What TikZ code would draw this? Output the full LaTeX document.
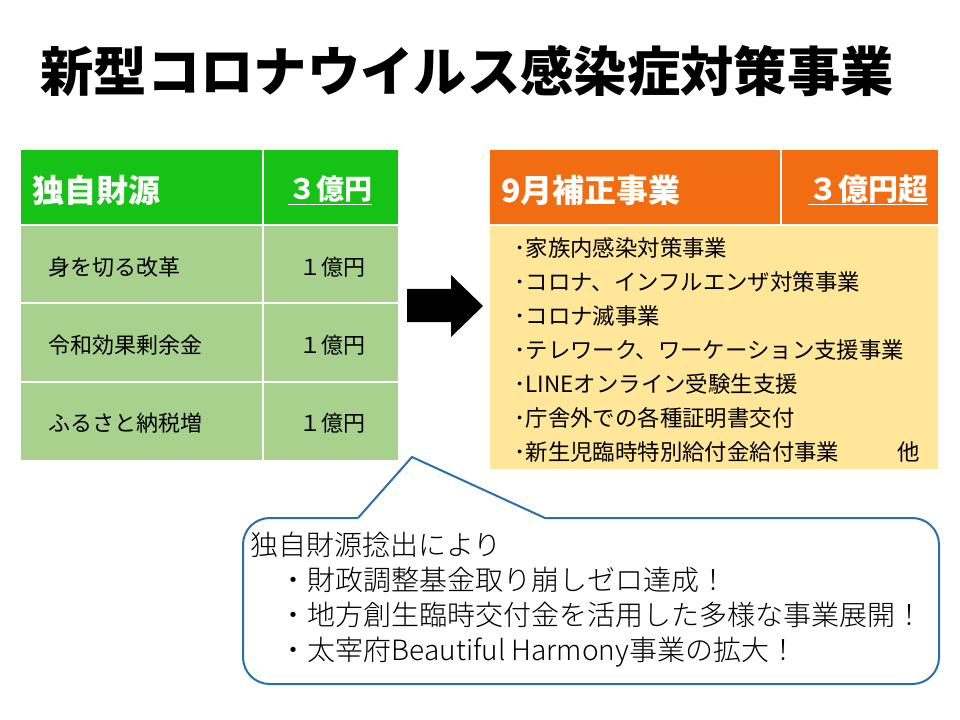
\documentclass[tikz,border=0pt]{standalone}
\usepackage{fontspec}
\setmainfont{Noto Sans CJK JP}
\newfontfamily\titlefont{Noto Sans CJK JP Black}
\newfontfamily\lightfont{Noto Sans CJK JP Light}
\definecolor{headGreen}{RGB}{22,194,22}
\definecolor{bodyGreen}{RGB}{169,209,142}
\definecolor{headOrange}{RGB}{242,108,18}
\definecolor{bodyYellow}{RGB}{255,230,153}
\definecolor{calloutBlue}{RGB}{40,112,172}
\tikzset{every picture/.style={line width=0.75pt}}

\begin{document}
\begin{tikzpicture}[x=0.75pt,y=0.75pt,yscale=-1,xscale=1,
	headtext/.style={inner sep=0pt,text=white,font=\bfseries\fontsize{24}{28}\selectfont},
	celltext/.style={inner sep=0pt,font=\fontsize{16.5}{20}\selectfont},
	gapline/.style={white,line width=1.5pt}]
	\useasboundingbox (0,0) rectangle (960,720);

	% Title
	\node (title) at (467,71) {\titlefont\fontsize{40}{48}\selectfont 新型コロナウイルス感染症対策事業};

	%Shape: Rectangle [id:dp4418205731]
	\fill [headGreen] (21,150) rectangle (398,225) ;
	%Shape: Rectangle [id:dp9021637715]
	\fill [bodyGreen] (21,225) rectangle (398,460) ;
	%Straight Lines [id:da1273948810]
	\draw [gapline] (21,225) -- (398,225) (21,303) -- (398,303) (21,382) -- (398,382) (263,150) -- (263,460) ;

	% Text Node
	\node [headtext,anchor=west] (srcHead) at (32,190) {独自財源};
	\node [headtext,font=\bfseries\fontsize{21}{26}\selectfont] (srcSum) at (330,190) {\underline{３億円}};
	\node [celltext,anchor=west] (srcA) at (48,267) {身を切る改革};
	\node [celltext,anchor=west] (srcB) at (48,345) {令和効果剰余金};
	\node [celltext,anchor=west] (srcC) at (48,423) {ふるさと納税増};
	\node [celltext] (valA) at (332,267) {１億円};
	\node [celltext] (valB) at (332,345) {１億円};
	\node [celltext] (valC) at (332,423) {１億円};

	%Shape: Right Arrow [id:dp6605138217]
	\fill [black] (407,289) -- (451,289) -- (451,275) -- (483,306) -- (451,337) -- (451,322) -- (407,322) -- cycle ;

	%Shape: Rectangle [id:dp2356019874]
	\fill [headOrange] (490,150) rectangle (938,225) ;
	%Shape: Rectangle [id:dp7731420956]
	\fill [bodyYellow] (490,225) rectangle (938,469) ;
	%Straight Lines [id:da5839102274]
	\draw [gapline] (490,225) -- (938,225) (781,150) -- (781,225) ;

	% Text Node
	\node [headtext,anchor=west] (projHead) at (501,190) {9月補正事業};
	\node [headtext,font=\bfseries\fontsize{22.5}{27}\selectfont] (projSum) at (868,190) {\underline{３億円超}};
	\node [celltext,anchor=west,align=left,font=\fontsize{16.8}{25.6}\selectfont] (projList) at (514,350) {･家族内感染対策事業\\･コロナ、インフルエンザ対策事業\\･コロナ滅事業\\･テレワーク、ワーケーション支援事業\\･LINEオンライン受験生支援\\･庁舎外での各種証明書交付\\･新生児臨時特別給付金給付事業\hspace{2.6em}他};

	%Shape: Rounded Rect [id:dp3390417725]
	\draw [calloutBlue,line width=1.5pt,rounded corners=20] (545,518) -- (939,518) -- (939,684) -- (243,684) -- (243,518) -- (358,518) ;
	%Straight Lines [id:da8172640351]
	\draw [calloutBlue,line width=1.5pt,line join=miter] (358,518) -- (412,457) -- (545,518) ;

	% Text Node
	\node [celltext,anchor=west,align=left,font=\lightfont\fontsize{21}{26.3}\selectfont] (note) at (250,600) {独自財源捻出により\\\hspace*{22pt}・財政調整基金取り崩しゼロ達成！\\\hspace*{22pt}・地方創生臨時交付金を活用した多様な事業展開！\\\hspace*{22pt}・太宰府Beautiful Harmony事業の拡大！};

\end{tikzpicture}
\end{document}
